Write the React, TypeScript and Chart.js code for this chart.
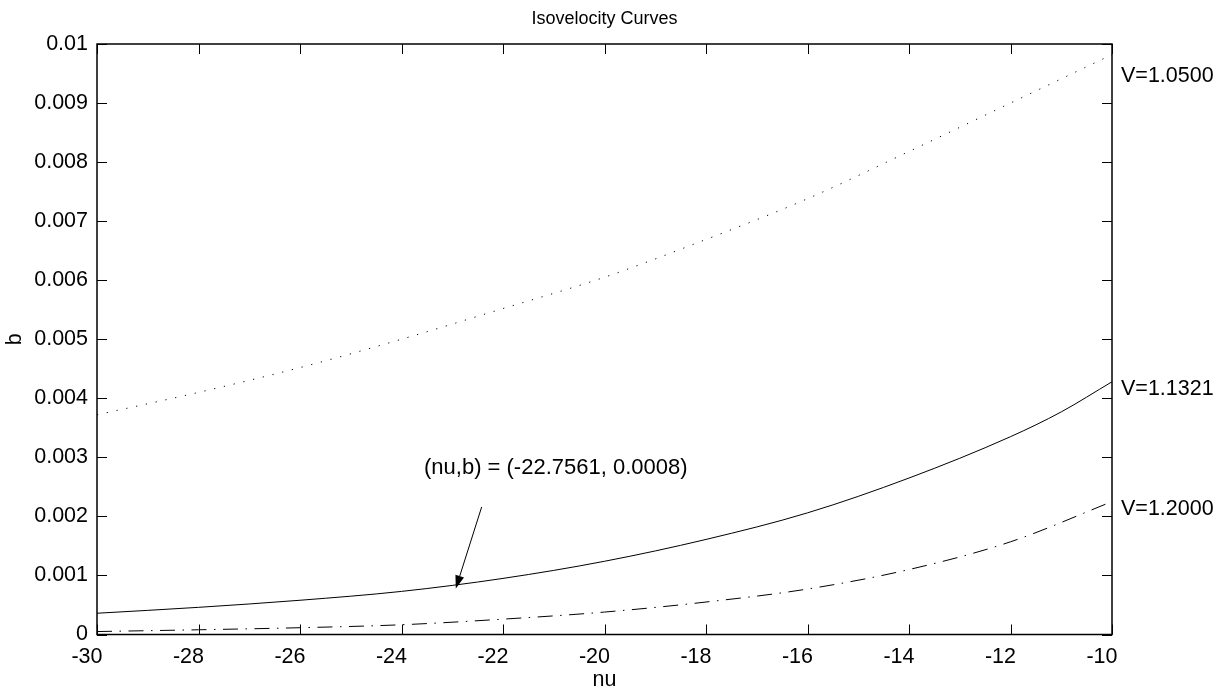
import React, { useEffect, useRef } from "react";
import { Chart, registerables } from "chart.js";

Chart.register(...registerables);

// ---- data ----
const nuGrid = [-30, -28, -26, -24, -22, -20, -18, -16, -14, -12, -10];
const bV1050 = [0.00372, 0.0041, 0.00452, 0.005, 0.00552, 0.00605, 0.00669, 0.00738, 0.00818, 0.009, 0.00982];
const nuSolid = [-30, -28, -26, -24, -22, -20, -18, -16, -14, -12, -11, -10];
const bV1132 = [0.00036, 0.00046, 0.00058, 0.00073, 0.00095, 0.00124, 0.00161, 0.00206, 0.00265, 0.00335, 0.00377, 0.00428];
const bV1200 = [0.00005, 0.00008, 0.000115, 0.000165, 0.00026, 0.00038, 0.00055, 0.00077, 0.0011, 0.00157, 0.00225];

const xTickValues = [-30, -28, -26, -24, -22, -20, -18, -16, -14, -12, -10];
const xTickLabels = ["-30", "-28", "-26", "-24", "-22", "-20", "-18", "-16", "-14", "-12", "-10"];
const yTickValues = [0, 0.001, 0.002, 0.003, 0.004, 0.005, 0.006, 0.007, 0.008, 0.009, 0.01];
const yTickLabels = ["0", "0.001", "0.002", "0.003", "0.004", "0.005", "0.006", "0.007", "0.008", "0.009", "0.01"];

const curveNames = ["V=1.0500", "V=1.1321", "V=1.2000"];
const curveLabelB = [0.00945, 0.00416, 0.00212];

const annotationText = "(nu,b) = (-22.7561, 0.0008)";
const annotationAt = [-20.96, 0.00282];
const arrowFrom = [-22.42, 0.00216];
const arrowTo = [-22.93, 0.00078];

const titleText = "Isovelocity Curves";
const xTitle = "nu";
const yTitle = "b";

const FONT = '"Liberation Sans", Arial, Helvetica, sans-serif';
const TICK_SIZE = 21.5;

const framePlugin = {
  id: "frame",
  afterDraw(chart: any) {
    const { ctx, chartArea: a, scales } = chart;
    const xs = scales.x;
    const ys = scales.y;
    ctx.save();
    ctx.strokeStyle = "#000";
    ctx.lineWidth = 1;
    ctx.beginPath();
    xTickValues.forEach((v) => {
      const px = Math.round(xs.getPixelForValue(v)) + 0.5;
      ctx.moveTo(px, a.bottom);
      ctx.lineTo(px, a.bottom - 10);
      ctx.moveTo(px, a.top);
      ctx.lineTo(px, a.top + 10);
    });
    yTickValues.forEach((v) => {
      const py = Math.round(ys.getPixelForValue(v)) + 0.5;
      ctx.moveTo(a.left, py);
      ctx.lineTo(a.left + 10, py);
      ctx.moveTo(a.right, py);
      ctx.lineTo(a.right - 10, py);
    });
    ctx.stroke();
    ctx.lineWidth = 1.5;
    ctx.strokeRect(a.left, a.top, a.right - a.left, a.bottom - a.top);

    ctx.fillStyle = "#000";
    // title
    ctx.font = `18px ${FONT}`;
    ctx.textAlign = "center";
    ctx.textBaseline = "middle";
    ctx.fillText(titleText, (a.left + a.right) / 2, 19);

    // curve labels
    ctx.font = `${TICK_SIZE}px ${FONT}`;
    ctx.textAlign = "left";
    curveNames.forEach((name, i) => {
      ctx.fillText(name, a.right + 9, ys.getPixelForValue(curveLabelB[i]));
    });

    // annotation
    ctx.font = `22px ${FONT}`;
    ctx.textAlign = "center";
    ctx.fillText(annotationText, xs.getPixelForValue(annotationAt[0]), ys.getPixelForValue(annotationAt[1]));
    const x0 = xs.getPixelForValue(arrowFrom[0]);
    const y0 = ys.getPixelForValue(arrowFrom[1]);
    const x1 = xs.getPixelForValue(arrowTo[0]);
    const y1 = ys.getPixelForValue(arrowTo[1]);
    const ang = Math.atan2(y1 - y0, x1 - x0);
    const headLen = 13;
    const headW = 4.5;
    const bx = x1 - headLen * Math.cos(ang);
    const by = y1 - headLen * Math.sin(ang);
    ctx.lineWidth = 1;
    ctx.beginPath();
    ctx.moveTo(x0, y0);
    ctx.lineTo(bx, by);
    ctx.stroke();
    ctx.beginPath();
    ctx.moveTo(x1, y1);
    ctx.lineTo(bx + headW * Math.sin(ang), by - headW * Math.cos(ang));
    ctx.lineTo(bx - headW * Math.sin(ang), by + headW * Math.cos(ang));
    ctx.closePath();
    ctx.fill();
    ctx.restore();
  },
};

export default function App() {
  const ref = useRef<HTMLCanvasElement | null>(null);
  useEffect(() => {
    if (!ref.current) return;
    Chart.defaults.color = "#000";
    Chart.defaults.font.family = FONT;
    const chart = new Chart(ref.current, {
      type: "line",
      data: {
        datasets: [
          {
            label: curveNames[0],
            data: nuGrid.map((x, i) => ({ x, y: bV1050[i] })),
            borderColor: "#000",
            borderWidth: 1,
            borderDash: [1.2, 8.8],
            pointRadius: 0,
            cubicInterpolationMode: "monotone",
            fill: false,
          },
          {
            label: curveNames[1],
            data: nuSolid.map((x, i) => ({ x, y: bV1132[i] })),
            borderColor: "#000",
            borderWidth: 1,
            pointRadius: 0,
            cubicInterpolationMode: "monotone",
            fill: false,
          },
          {
            label: curveNames[2],
            data: nuGrid.map((x, i) => ({ x, y: bV1200[i] })),
            borderColor: "#000",
            borderWidth: 1,
            borderDash: [15, 7.5, 1.5, 7.5],
            pointRadius: 0,
            cubicInterpolationMode: "monotone",
            fill: false,
          },
        ],
      },
      options: {
        animation: false,
        responsive: false,
        devicePixelRatio: 1,
        layout: { padding: { left: 0, right: 118, top: 44, bottom: 0 } },
        plugins: {
          legend: { display: false },
          tooltip: { enabled: false },
          title: { display: false },
        },
        scales: {
          x: {
            type: "linear",
            min: -30,
            max: -10,
            afterBuildTicks: (s: any) => {
              s.ticks = xTickValues.map((v) => ({ value: v }));
            },
            afterFit: (s: any) => {
              s.height = 61.5;
            },
            grid: { display: false, drawTicks: false },
            border: { display: false },
            ticks: {
              color: "#000",
              font: { size: TICK_SIZE, family: FONT },
              padding: 10,
              labelOffset: -10,
              maxRotation: 0,
              autoSkip: false,
              callback: (_v: any, i: number) => xTickLabels[i],
            },
            title: {
              display: true,
              text: xTitle,
              color: "#000",
              font: { size: TICK_SIZE, family: FONT },
              padding: { top: 0, bottom: 3 },
            },
          },
          y: {
            type: "linear",
            min: 0,
            max: 0.01,
            afterBuildTicks: (s: any) => {
              s.ticks = yTickValues.map((v) => ({ value: v }));
            },
            afterFit: (s: any) => {
              s.width = 97;
            },
            grid: { display: false, drawTicks: false },
            border: { display: false },
            ticks: {
              color: "#000",
              font: { size: TICK_SIZE, family: FONT },
              padding: 9,
              autoSkip: false,
              callback: (_v: any, i: number) => yTickLabels[i],
            },
            title: {
              display: true,
              text: yTitle,
              color: "#000",
              font: { size: TICK_SIZE, family: FONT },
              padding: { top: 2, bottom: 0 },
            },
          },
        },
      },
      plugins: [framePlugin],
    } as any);
    return () => chart.destroy();
  }, []);
  return (
    <div style={{ position: "absolute", left: 0, top: 0, width: 1230, height: 696, background: "#fff" }}>
      <canvas ref={ref} width={1230} height={696} style={{ display: "block" }} />
    </div>
  );
}
